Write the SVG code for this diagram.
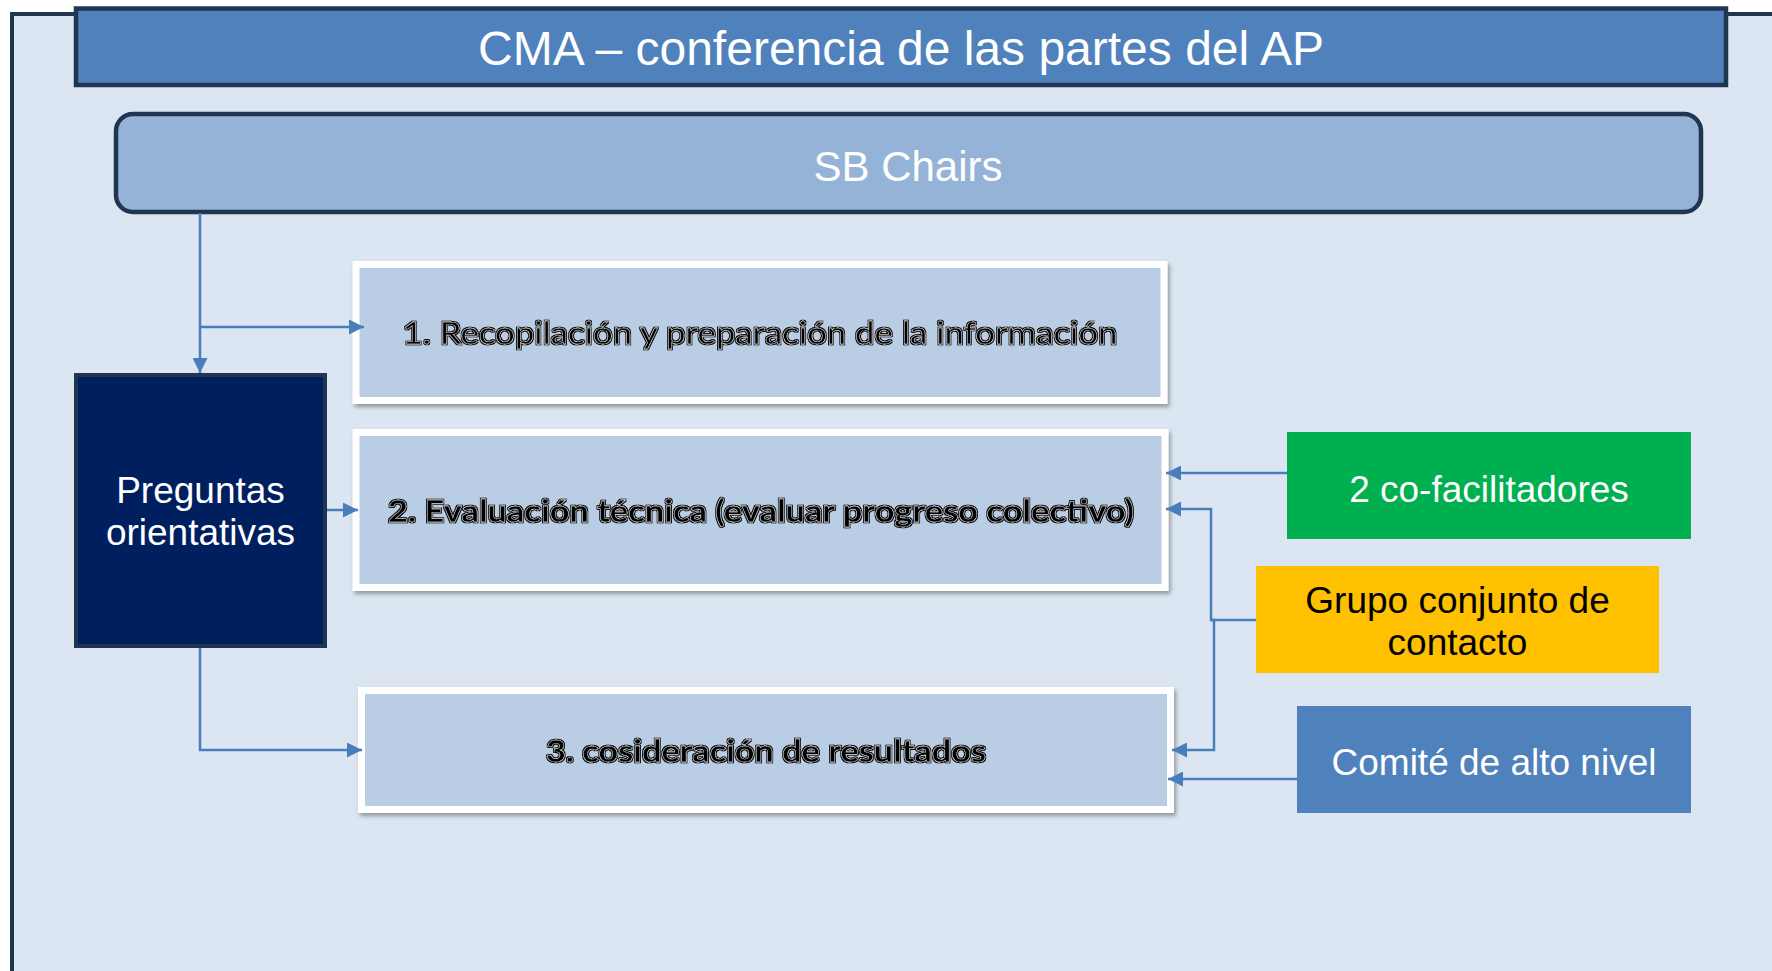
<svg xmlns="http://www.w3.org/2000/svg" width="1772" height="971" viewBox="0 0 1772 971">
  <style>
    .frame { fill: #DCE6F2; stroke: #1F3550; stroke-width: 4; }
    .title { fill: #4F81BD; stroke: #1F3550; stroke-width: 4.5; }
    .sb { fill: #95B3D7; stroke: #1F3550; stroke-width: 4.5; }
    .step { fill: #B9CDE5; stroke: #FFFFFF; stroke-width: 7; }
    .preg { fill: #001F5F; stroke: #1F3550; stroke-width: 4; }
    .ar { font-family: "Liberation Sans", Arial, sans-serif; text-anchor: middle; }
    .cal { font-family: Lato, "Open Sans", "Liberation Sans", sans-serif; font-size: 31px; text-anchor: middle; fill: #000; stroke: #FFFFFF; stroke-width: 0.35; }
    .conn { fill: none; stroke: #4A7EBB; stroke-width: 2.5; marker-end: url(#arrow); }
  </style>
  <defs>
    <marker id="arrow" viewBox="0 0 10 10" refX="10" refY="5" markerUnits="userSpaceOnUse" markerWidth="15" markerHeight="15" orient="auto">
      <path d="M0,0 L10,5 L0,10 Z" fill="#4A7EBB"/>
    </marker>
    <filter id="shadow" x="-5%" y="-10%" width="110%" height="130%">
      <feDropShadow dx="2" dy="3" stdDeviation="2" flood-color="#000" flood-opacity="0.35"/>
    </filter>
    <filter id="outline" x="-5%" y="-30%" width="110%" height="160%">
      <feMorphology in="SourceAlpha" operator="dilate" radius="0.8" result="d"/>
      <feFlood flood-color="#000"/>
      <feComposite in2="d" operator="in" result="o"/>
      <feMerge>
        <feMergeNode in="o"/>
        <feMergeNode in="SourceGraphic"/>
      </feMerge>
    </filter>
  </defs>

  <rect x="0" y="0" width="1772" height="971" fill="#FFFFFF"/>

  <g id="frame">
    <rect class="frame" x="12" y="14" width="1800" height="1000"/>
  </g>

  <g id="title">
    <rect class="title" x="76" y="8.5" width="1650" height="76.5"/>
    <text class="ar" x="901" y="65" font-size="48" fill="#FFFFFF">CMA – conferencia de las partes del AP</text>
  </g>

  <g id="sb-chairs">
    <rect class="sb" x="116" y="114" width="1585" height="98" rx="17" ry="17"/>
    <text class="ar" x="908" y="181" font-size="42" fill="#FFFFFF">SB Chairs</text>
  </g>

  <g id="step1">
    <rect class="step" x="356" y="264.5" width="808" height="136" filter="url(#shadow)"/>
    <text class="cal" x="760" y="344" textLength="715" lengthAdjust="spacingAndGlyphs" filter="url(#outline)">1. Recopilación y preparación de la información</text>
  </g>

  <g id="step2">
    <rect class="step" x="356" y="432.5" width="809" height="155" filter="url(#shadow)"/>
    <text class="cal" x="761" y="522" font-weight="bold" textLength="746" lengthAdjust="spacingAndGlyphs" filter="url(#outline)">2. Evaluación técnica (evaluar progreso colectivo)</text>
  </g>

  <g id="step3">
    <rect class="step" x="361.5" y="690.5" width="809" height="119" filter="url(#shadow)"/>
    <text class="cal" x="766" y="762" font-weight="bold" textLength="440" lengthAdjust="spacingAndGlyphs" filter="url(#outline)">3. cosideración de resultados</text>
  </g>

  <g id="preguntas">
    <rect class="preg" x="76" y="375" width="249" height="271"/>
    <text class="ar" x="200.5" y="503" font-size="37" fill="#FFFFFF">Preguntas</text>
    <text class="ar" x="200.5" y="545" font-size="37" fill="#FFFFFF">orientativas</text>
  </g>

  <g id="cofacilitadores">
    <rect x="1287" y="432" width="404" height="107" fill="#00B050"/>
    <text class="ar" x="1489" y="502" font-size="37" fill="#FFFFFF">2 co-facilitadores</text>
  </g>

  <g id="grupo">
    <rect x="1256" y="566" width="403" height="107" fill="#FFC000"/>
    <text class="ar" x="1457.5" y="613" font-size="37" fill="#000000">Grupo conjunto de</text>
    <text class="ar" x="1457.5" y="655" font-size="37" fill="#000000">contacto</text>
  </g>

  <g id="comite">
    <rect x="1297" y="706" width="394" height="107" fill="#4F81BD"/>
    <text class="ar" x="1494" y="775" font-size="37" fill="#FFFFFF">Comité de alto nivel</text>
  </g>

  <g id="connectors">
    <path class="conn" d="M200,213 V373"/>
    <path class="conn" d="M200,327 H364"/>
    <path class="conn" d="M327,510 H358"/>
    <path class="conn" d="M200,648 V750 H362"/>
    <path class="conn" d="M1287,473 H1166"/>
    <path class="conn" d="M1256,620 H1211 V509 H1166"/>
    <path class="conn" d="M1211,620 H1214 V750 H1172"/>
    <path class="conn" d="M1297,779 H1168"/>
  </g>
</svg>
